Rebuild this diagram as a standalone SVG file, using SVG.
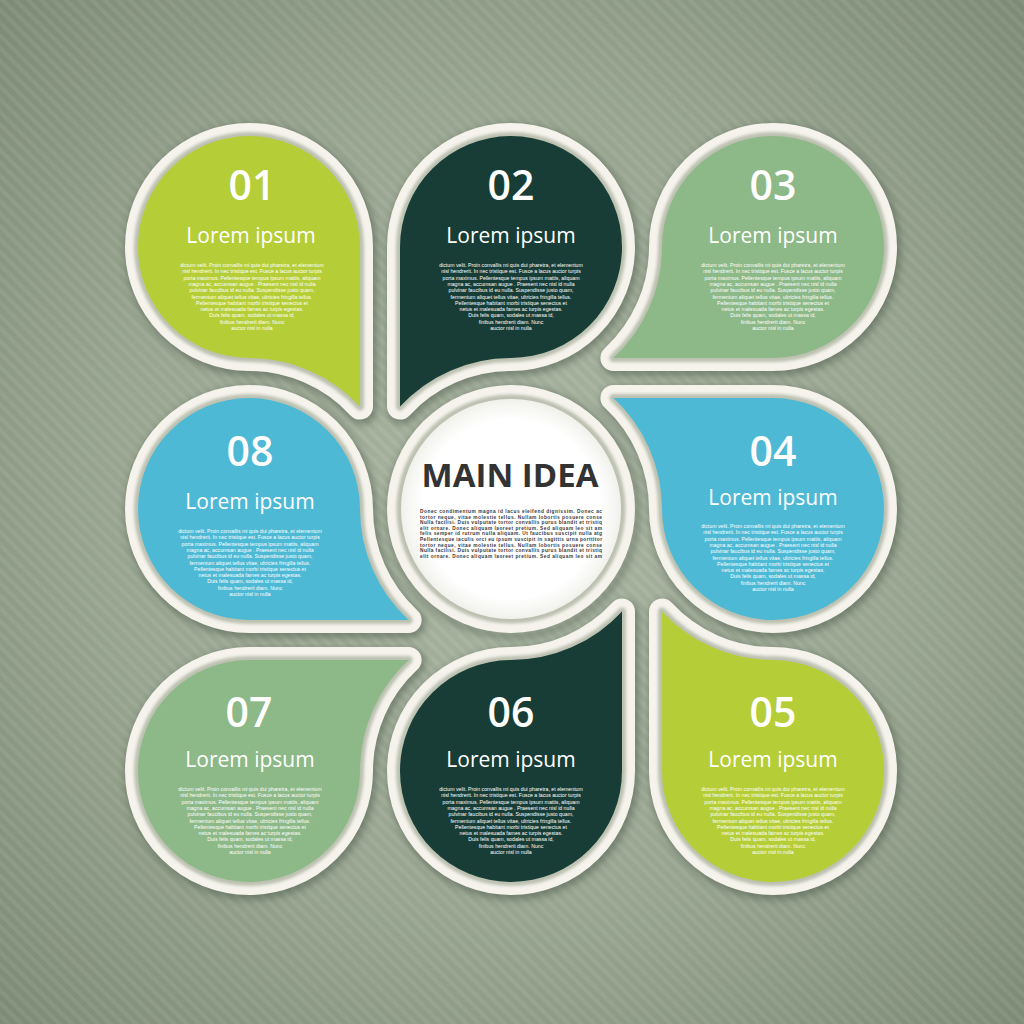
<svg xmlns="http://www.w3.org/2000/svg" xmlns:xlink="http://www.w3.org/1999/xlink" width="1024" height="1024" viewBox="0 0 1024 1024">
<defs>
<radialGradient id="bg" cx="512" cy="512" r="740" gradientUnits="userSpaceOnUse">
<stop offset="0" stop-color="#a9b4a1"/>
<stop offset="0.55" stop-color="#97a48f"/>
<stop offset="1" stop-color="#7b8975"/>
</radialGradient>
<pattern id="stripes" width="9" height="9" patternUnits="userSpaceOnUse" patternTransform="rotate(-45)">
<rect x="0" y="0" width="4" height="9" fill="#ffffff" fill-opacity="0.07"/>
</pattern>
<radialGradient id="cg" cx="511" cy="509" r="112" gradientUnits="userSpaceOnUse">
<stop offset="0.8" stop-color="#ffffff"/>
<stop offset="1" stop-color="#f0f0ea"/>
</radialGradient>
<filter id="sh" x="-20%" y="-20%" width="140%" height="140%"><feGaussianBlur stdDeviation="3.5"/></filter>
<filter id="soft" x="-20%" y="-20%" width="140%" height="140%"><feGaussianBlur stdDeviation="1.6"/></filter>
<path id="p01" d="M360,247 L360,406.6 A151,151 0 0 0 249,358 A111,111 0 1 1 360,247 Z"/>
<path id="p02" d="M400,247 L400,406.6 A151,151 0 0 1 511,358 A111,111 0 1 0 400,247 Z"/>
<path id="p03" d="M773,358 L613.4,358 A151,151 0 0 0 662,247 A111,111 0 1 1 773,358 Z"/>
<path id="p04" d="M773,398 L613.4,398 A151,151 0 0 1 662,509 A111,111 0 1 0 773,398 Z"/>
<path id="p05" d="M662,771 L662,611.4 A151,151 0 0 0 773,660 A111,111 0 1 1 662,771 Z"/>
<path id="p06" d="M622,771 L622,611.4 A151,151 0 0 1 511,660 A111,111 0 1 0 622,771 Z"/>
<path id="p07" d="M249,660 L408.6,660 A151,151 0 0 0 360,771 A111,111 0 1 1 249,660 Z"/>
<path id="p08" d="M249,620 L408.6,620 A151,151 0 0 1 360,509 A111,111 0 1 0 249,620 Z"/>
</defs>
<style>
.sh{fill:none;stroke:#434d3f;stroke-opacity:.45;stroke-width:30;stroke-linejoin:round;filter:url(#sh)}
.rim{fill:none;stroke:#f5f3ec;stroke-width:26;stroke-linejoin:round}
.in{fill:none;stroke:#bcc1b1;stroke-width:8;stroke-linejoin:round;filter:url(#soft)}
.lime{fill:#b5cd37}
.dark{fill:#173d36}
.sage{fill:#8db887}
.blue{fill:#4db9d5}
.num{font-family:"Open Sans","Liberation Sans",sans-serif;font-weight:600;font-size:41px;fill:#ffffff;text-anchor:middle}
.ttl{font-family:"Open Sans","Liberation Sans",sans-serif;font-size:21px;fill:#ffffff;text-anchor:middle}
.body{font-family:"Liberation Sans",Arial,sans-serif;font-size:5.2px;fill:#ffffff;text-anchor:middle}
.main{font-family:"Open Sans","Liberation Sans",sans-serif;font-weight:700;font-size:33px;fill:#333333;text-anchor:middle}
.mbody{font-family:"Liberation Sans",Arial,sans-serif;font-weight:700;font-size:4.8px;fill:#3a3a3a}
</style>
<rect x="0" y="0" width="1024" height="1024" fill="url(#bg)"/>
<rect x="0" y="0" width="1024" height="1024" fill="url(#stripes)"/>
<g id="connectors"/>
<g id="node-01">
<use xlink:href="#p01" class="sh" transform="translate(2,3)"/>
<use xlink:href="#p01" class="rim"/>
<use xlink:href="#p01" class="in"/>
<use xlink:href="#p01" class="lime"/>
<text class="num" x="252" y="200">01</text>
<text class="ttl" x="251" y="243">Lorem ipsum</text>
<text class="body" x="252" y="267"><tspan x="252">dictum velit. Proin convallis mi quis dui pharetra, et elementum</tspan><tspan x="252" dy="6.3">nisl hendrerit. In nec tristique est. Fusce a lacus auctor turpis</tspan><tspan x="252" dy="6.3">porta maximus. Pellentesque tempus ipsum mattis, aliquam</tspan><tspan x="252" dy="6.3">magna ac, accumsan augue . Praesent nec nisl id nulla</tspan><tspan x="252" dy="6.3">pulvinar faucibus id eu nulla. Suspendisse justo quam,</tspan><tspan x="252" dy="6.3">fermentum aliquet tellus vitae, ultricies fringilla tellus.</tspan><tspan x="252" dy="6.3">Pellentesque habitant morbi tristique senectus et</tspan><tspan x="252" dy="6.3">netus et malesuada fames ac turpis egestas.</tspan><tspan x="252" dy="6.3">Duis felis quam, sodales ut massa id,</tspan><tspan x="252" dy="6.3">finibus hendrerit diam. Nunc</tspan><tspan x="252" dy="6.3">auctor nisl in nulla</tspan></text>
</g>
<g id="node-02">
<use xlink:href="#p02" class="sh" transform="translate(2,3)"/>
<use xlink:href="#p02" class="rim"/>
<use xlink:href="#p02" class="in"/>
<use xlink:href="#p02" class="dark"/>
<text class="num" x="511" y="200">02</text>
<text class="ttl" x="511" y="243">Lorem ipsum</text>
<text class="body" x="511" y="267"><tspan x="511">dictum velit. Proin convallis mi quis dui pharetra, et elementum</tspan><tspan x="511" dy="6.3">nisl hendrerit. In nec tristique est. Fusce a lacus auctor turpis</tspan><tspan x="511" dy="6.3">porta maximus. Pellentesque tempus ipsum mattis, aliquam</tspan><tspan x="511" dy="6.3">magna ac, accumsan augue . Praesent nec nisl id nulla</tspan><tspan x="511" dy="6.3">pulvinar faucibus id eu nulla. Suspendisse justo quam,</tspan><tspan x="511" dy="6.3">fermentum aliquet tellus vitae, ultricies fringilla tellus.</tspan><tspan x="511" dy="6.3">Pellentesque habitant morbi tristique senectus et</tspan><tspan x="511" dy="6.3">netus et malesuada fames ac turpis egestas.</tspan><tspan x="511" dy="6.3">Duis felis quam, sodales ut massa id,</tspan><tspan x="511" dy="6.3">finibus hendrerit diam. Nunc</tspan><tspan x="511" dy="6.3">auctor nisl in nulla</tspan></text>
</g>
<g id="node-03">
<use xlink:href="#p03" class="sh" transform="translate(2,3)"/>
<use xlink:href="#p03" class="rim"/>
<use xlink:href="#p03" class="in"/>
<use xlink:href="#p03" class="sage"/>
<text class="num" x="773" y="200">03</text>
<text class="ttl" x="773" y="243">Lorem ipsum</text>
<text class="body" x="773" y="267"><tspan x="773">dictum velit. Proin convallis mi quis dui pharetra, et elementum</tspan><tspan x="773" dy="6.3">nisl hendrerit. In nec tristique est. Fusce a lacus auctor turpis</tspan><tspan x="773" dy="6.3">porta maximus. Pellentesque tempus ipsum mattis, aliquam</tspan><tspan x="773" dy="6.3">magna ac, accumsan augue . Praesent nec nisl id nulla</tspan><tspan x="773" dy="6.3">pulvinar faucibus id eu nulla. Suspendisse justo quam,</tspan><tspan x="773" dy="6.3">fermentum aliquet tellus vitae, ultricies fringilla tellus.</tspan><tspan x="773" dy="6.3">Pellentesque habitant morbi tristique senectus et</tspan><tspan x="773" dy="6.3">netus et malesuada fames ac turpis egestas.</tspan><tspan x="773" dy="6.3">Duis felis quam, sodales ut massa id,</tspan><tspan x="773" dy="6.3">finibus hendrerit diam. Nunc</tspan><tspan x="773" dy="6.3">auctor nisl in nulla</tspan></text>
</g>
<g id="node-04">
<use xlink:href="#p04" class="sh" transform="translate(2,3)"/>
<use xlink:href="#p04" class="rim"/>
<use xlink:href="#p04" class="in"/>
<use xlink:href="#p04" class="blue"/>
<text class="num" x="773" y="466">04</text>
<text class="ttl" x="773" y="505">Lorem ipsum</text>
<text class="body" x="773" y="528"><tspan x="773">dictum velit. Proin convallis mi quis dui pharetra, et elementum</tspan><tspan x="773" dy="6.3">nisl hendrerit. In nec tristique est. Fusce a lacus auctor turpis</tspan><tspan x="773" dy="6.3">porta maximus. Pellentesque tempus ipsum mattis, aliquam</tspan><tspan x="773" dy="6.3">magna ac, accumsan augue . Praesent nec nisl id nulla</tspan><tspan x="773" dy="6.3">pulvinar faucibus id eu nulla. Suspendisse justo quam,</tspan><tspan x="773" dy="6.3">fermentum aliquet tellus vitae, ultricies fringilla tellus.</tspan><tspan x="773" dy="6.3">Pellentesque habitant morbi tristique senectus et</tspan><tspan x="773" dy="6.3">netus et malesuada fames ac turpis egestas.</tspan><tspan x="773" dy="6.3">Duis felis quam, sodales ut massa id,</tspan><tspan x="773" dy="6.3">finibus hendrerit diam. Nunc</tspan><tspan x="773" dy="6.3">auctor nisl in nulla</tspan></text>
</g>
<g id="node-05">
<use xlink:href="#p05" class="sh" transform="translate(2,3)"/>
<use xlink:href="#p05" class="rim"/>
<use xlink:href="#p05" class="in"/>
<use xlink:href="#p05" class="lime"/>
<text class="num" x="773" y="727">05</text>
<text class="ttl" x="773" y="767">Lorem ipsum</text>
<text class="body" x="773" y="791"><tspan x="773">dictum velit. Proin convallis mi quis dui pharetra, et elementum</tspan><tspan x="773" dy="6.3">nisl hendrerit. In nec tristique est. Fusce a lacus auctor turpis</tspan><tspan x="773" dy="6.3">porta maximus. Pellentesque tempus ipsum mattis, aliquam</tspan><tspan x="773" dy="6.3">magna ac, accumsan augue . Praesent nec nisl id nulla</tspan><tspan x="773" dy="6.3">pulvinar faucibus id eu nulla. Suspendisse justo quam,</tspan><tspan x="773" dy="6.3">fermentum aliquet tellus vitae, ultricies fringilla tellus.</tspan><tspan x="773" dy="6.3">Pellentesque habitant morbi tristique senectus et</tspan><tspan x="773" dy="6.3">netus et malesuada fames ac turpis egestas.</tspan><tspan x="773" dy="6.3">Duis felis quam, sodales ut massa id,</tspan><tspan x="773" dy="6.3">finibus hendrerit diam. Nunc</tspan><tspan x="773" dy="6.3">auctor nisl in nulla</tspan></text>
</g>
<g id="node-06">
<use xlink:href="#p06" class="sh" transform="translate(2,3)"/>
<use xlink:href="#p06" class="rim"/>
<use xlink:href="#p06" class="in"/>
<use xlink:href="#p06" class="dark"/>
<text class="num" x="511" y="727">06</text>
<text class="ttl" x="511" y="767">Lorem ipsum</text>
<text class="body" x="511" y="791"><tspan x="511">dictum velit. Proin convallis mi quis dui pharetra, et elementum</tspan><tspan x="511" dy="6.3">nisl hendrerit. In nec tristique est. Fusce a lacus auctor turpis</tspan><tspan x="511" dy="6.3">porta maximus. Pellentesque tempus ipsum mattis, aliquam</tspan><tspan x="511" dy="6.3">magna ac, accumsan augue . Praesent nec nisl id nulla</tspan><tspan x="511" dy="6.3">pulvinar faucibus id eu nulla. Suspendisse justo quam,</tspan><tspan x="511" dy="6.3">fermentum aliquet tellus vitae, ultricies fringilla tellus.</tspan><tspan x="511" dy="6.3">Pellentesque habitant morbi tristique senectus et</tspan><tspan x="511" dy="6.3">netus et malesuada fames ac turpis egestas.</tspan><tspan x="511" dy="6.3">Duis felis quam, sodales ut massa id,</tspan><tspan x="511" dy="6.3">finibus hendrerit diam. Nunc</tspan><tspan x="511" dy="6.3">auctor nisl in nulla</tspan></text>
</g>
<g id="node-07">
<use xlink:href="#p07" class="sh" transform="translate(2,3)"/>
<use xlink:href="#p07" class="rim"/>
<use xlink:href="#p07" class="in"/>
<use xlink:href="#p07" class="sage"/>
<text class="num" x="249" y="727">07</text>
<text class="ttl" x="250" y="767">Lorem ipsum</text>
<text class="body" x="250" y="791"><tspan x="250">dictum velit. Proin convallis mi quis dui pharetra, et elementum</tspan><tspan x="250" dy="6.3">nisl hendrerit. In nec tristique est. Fusce a lacus auctor turpis</tspan><tspan x="250" dy="6.3">porta maximus. Pellentesque tempus ipsum mattis, aliquam</tspan><tspan x="250" dy="6.3">magna ac, accumsan augue . Praesent nec nisl id nulla</tspan><tspan x="250" dy="6.3">pulvinar faucibus id eu nulla. Suspendisse justo quam,</tspan><tspan x="250" dy="6.3">fermentum aliquet tellus vitae, ultricies fringilla tellus.</tspan><tspan x="250" dy="6.3">Pellentesque habitant morbi tristique senectus et</tspan><tspan x="250" dy="6.3">netus et malesuada fames ac turpis egestas.</tspan><tspan x="250" dy="6.3">Duis felis quam, sodales ut massa id,</tspan><tspan x="250" dy="6.3">finibus hendrerit diam. Nunc</tspan><tspan x="250" dy="6.3">auctor nisl in nulla</tspan></text>
</g>
<g id="node-08">
<use xlink:href="#p08" class="sh" transform="translate(2,3)"/>
<use xlink:href="#p08" class="rim"/>
<use xlink:href="#p08" class="in"/>
<use xlink:href="#p08" class="blue"/>
<text class="num" x="250" y="466">08</text>
<text class="ttl" x="250" y="509">Lorem ipsum</text>
<text class="body" x="250" y="533"><tspan x="250">dictum velit. Proin convallis mi quis dui pharetra, et elementum</tspan><tspan x="250" dy="6.3">nisl hendrerit. In nec tristique est. Fusce a lacus auctor turpis</tspan><tspan x="250" dy="6.3">porta maximus. Pellentesque tempus ipsum mattis, aliquam</tspan><tspan x="250" dy="6.3">magna ac, accumsan augue . Praesent nec nisl id nulla</tspan><tspan x="250" dy="6.3">pulvinar faucibus id eu nulla. Suspendisse justo quam,</tspan><tspan x="250" dy="6.3">fermentum aliquet tellus vitae, ultricies fringilla tellus.</tspan><tspan x="250" dy="6.3">Pellentesque habitant morbi tristique senectus et</tspan><tspan x="250" dy="6.3">netus et malesuada fames ac turpis egestas.</tspan><tspan x="250" dy="6.3">Duis felis quam, sodales ut massa id,</tspan><tspan x="250" dy="6.3">finibus hendrerit diam. Nunc</tspan><tspan x="250" dy="6.3">auctor nisl in nulla</tspan></text>
</g>
<g id="main-idea">
<circle cx="513" cy="512" r="124" fill="none" stroke="#434d3f" stroke-opacity="0.45" stroke-width="6" filter="url(#sh)"/>
<circle cx="511" cy="509" r="124" fill="#f5f3ec"/>
<circle cx="511" cy="509" r="111" fill="none" stroke="#bcc1b1" stroke-width="7" filter="url(#soft)"/>
<circle cx="511" cy="509" r="110" fill="url(#cg)"/>
<text class="main" x="510" y="487">MAIN IDEA</text>
<g class="mbody">
<text x="420" y="513" textLength="182" lengthAdjust="spacing">Donec condimentum magna id lacus eleifend dignissim. Donec ac</text>
<text x="420" y="518.6" textLength="182" lengthAdjust="spacing">tortor neque, vitae molestie tellus. Nullam lobortis posuere  conse</text>
<text x="420" y="524.2" textLength="182" lengthAdjust="spacing">Nulla facilisi. Duis vulputate tortor convallis purus blandit et tristiq</text>
<text x="420" y="529.8" textLength="182" lengthAdjust="spacing">elit ornare. Donec aliquam laoreet pretium. Sed aliquam leo sit am</text>
<text x="420" y="535.4" textLength="182" lengthAdjust="spacing">felis semper id rutrum nulla aliquam. Ut faucibus suscipit nulla atg</text>
<text x="420" y="541" textLength="182" lengthAdjust="spacing">Pellentesque iaculis orci eu ipsum suscipit in sagittis urna porttitor</text>
<text x="420" y="546.6" textLength="182" lengthAdjust="spacing">tortor neque, vitae molestie tellus. Nullam lobortis posuere  conse</text>
<text x="420" y="552.2" textLength="182" lengthAdjust="spacing">Nulla facilisi. Duis vulputate tortor convallis purus blandit et tristiq</text>
<text x="420" y="557.8" textLength="182" lengthAdjust="spacing">elit ornare. Donec aliquam laoreet pretium. Sed aliquam leo sit am</text>
</g>
</g>
</svg>
